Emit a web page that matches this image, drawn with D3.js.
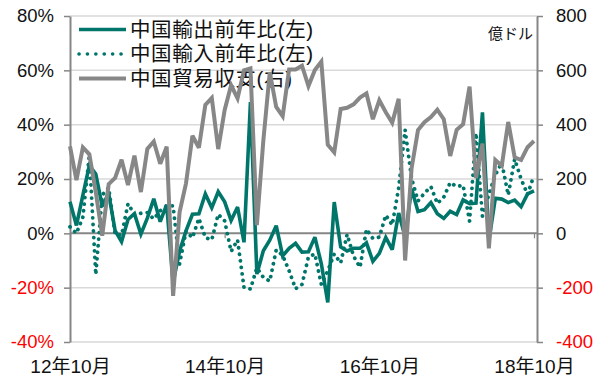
<!DOCTYPE html>
<html>
<head>
<meta charset="utf-8">
<script src="https://cdn.jsdelivr.net/npm/d3@7"></script>
<style>
  html, body { margin: 0; padding: 0; background: #fff; }
  svg { display: block; }
  text { font-family: "Liberation Sans", "Noto Sans CJK JP", sans-serif; }
</style>
</head>
<body>
<svg id="chart" width="614" height="391"></svg>
<script>
// ---- data ----
const categories = [
  "2012-10","2012-11","2012-12",
  "2013-01","2013-02","2013-03","2013-04","2013-05","2013-06","2013-07","2013-08","2013-09","2013-10","2013-11","2013-12",
  "2014-01","2014-02","2014-03","2014-04","2014-05","2014-06","2014-07","2014-08","2014-09","2014-10","2014-11","2014-12",
  "2015-01","2015-02","2015-03","2015-04","2015-05","2015-06","2015-07","2015-08","2015-09","2015-10","2015-11","2015-12",
  "2016-01","2016-02","2016-03","2016-04","2016-05","2016-06","2016-07","2016-08","2016-09","2016-10","2016-11","2016-12",
  "2017-01","2017-02","2017-03","2017-04","2017-05","2017-06","2017-07","2017-08","2017-09","2017-10","2017-11","2017-12",
  "2018-01","2018-02","2018-03","2018-04","2018-05","2018-06","2018-07","2018-08","2018-09","2018-10"
];
// 中国輸出前年比 (%)
const exportsYoY = [
  11.6, 2.9, 14.1,
  25.0, 21.8, 10.0, 14.7, 1.0, -3.1, 5.1, 7.2, -0.3, 5.6, 12.7, 4.3,
  10.6, -18.1, -6.6, 0.9, 7.0, 7.2, 14.5, 9.4, 15.3, 11.6, 4.7, 9.7,
  -3.3, 48.3, -15.0, -6.4, -2.5, 2.8, -8.3, -5.5, -3.7, -6.9, -6.8, -1.4,
  -11.2, -25.4, 11.5, -5.0, -6.5, -5.5, -5.5, -3.5, -10.3, -7.4, -1.5, -6.0,
  7.5, -1.3, 16.4, 8.0, 8.7, 11.3, 7.2, 5.5, 8.1, 6.9, 12.3, 10.9,
  11.1, 44.5, -2.7, 12.9, 12.6, 11.3, 12.2, 9.8, 14.5, 15.6
];
// 中国輸入前年比 (%)
const importsYoY = [
  2.4, 0.0, 6.0,
  28.8, -15.2, 14.1, 16.8, -0.3, -0.7, 10.9, 7.0, 7.4, 7.6, 5.3, 8.3,
  10.0, 10.1, -11.3, 0.8, -1.6, 5.5, -1.6, -2.4, 7.0, 4.6, -6.7, -2.4,
  -19.9, -20.5, -12.7, -16.2, -17.6, -6.1, -8.1, -13.8, -20.4, -18.8, -8.7, -7.6,
  -18.8, -13.8, -7.6, -10.9, -0.4, -8.4, -12.5, 1.5, -1.9, -1.4, 6.7, 3.1,
  16.7, 38.1, 20.3, 11.9, 14.8, 17.2, 11.0, 13.3, 18.7, 17.2, 17.7, 4.5,
  36.9, 6.3, 14.4, 21.5, 26.0, 14.1, 27.3, 20.0, 14.3, 21.4
];
// 中国貿易収支 (億ドル)
const tradeBalance = [
  320, 196, 316,
  291, 152, -9, 181, 204, 271, 178, 286, 152, 311, 338, 256,
  319, -230, 77, 184, 359, 315, 473, 498, 310, 454, 545, 497,
  600, 607, 30, 341, 593, 465, 431, 603, 603, 617, 542, 601,
  632, 326, 298, 458, 462, 475, 500, 515, 420, 490, 446, 407,
  495, -100, 239, 380, 409, 428, 455, 420, 285, 381, 402, 540,
  203, 330, -55, 270, 249, 410, 280, 270, 317, 340
];
const leftTicks = [-40, -20, 0, 20, 40, 60, 80];
const leftTickLabels = ["-40%", "-20%", "0%", "20%", "40%", "60%", "80%"];
const rightTicks = [-400, -200, 0, 200, 400, 600, 800];
const rightTickLabels = ["-400", "-200", "0", "200", "400", "600", "800"];
const xTickValues = ["2012-10", "2014-10", "2016-10", "2018-10"];
const xTickLabels = ["12年10月", "14年10月", "16年10月", "18年10月"];
const seriesNames = ["中国輸出前年比(左)", "中国輸入前年比(左)", "中国貿易収支(右)"];
const unitLabel = "億ドル";

// ---- layout ----
const TEAL = "#00766b", GRAY = "#878787", AXIS = "#868686", GRID = "#d9d9d9";
const plotL = 70, plotR = 537, plotT = 16, plotB = 342;
const svg = d3.select("#chart");

const x = d3.scalePoint().domain(categories).range([70, 534]);
const yL = d3.scaleLinear().domain([-40, 80]).range([plotB, plotT]);
const yR = d3.scaleLinear().domain([-400, 800]).range([plotB, plotT]);

// gridlines
svg.append("g").selectAll("line")
  .data(leftTicks.filter(d => d !== 0)).join("line")
  .attr("x1", plotL).attr("x2", plotR)
  .attr("y1", d => yL(d)).attr("y2", d => yL(d))
  .attr("stroke", GRID).attr("stroke-width", 1.5);

// category axis at 0
const xZero = svg.append("g").attr("transform", `translate(0,${yL(0)})`)
  .call(d3.axisBottom(x).tickValues(xTickValues).tickSize(5).tickFormat(""));
xZero.select(".domain").remove();
xZero.selectAll(".tick line").attr("stroke", AXIS).attr("stroke-width", 1.2);
svg.append("line").attr("x1", plotL).attr("x2", plotR)
  .attr("y1", yL(0)).attr("y2", yL(0))
  .attr("stroke", AXIS).attr("stroke-width", 2);

// left axis
const gL = svg.append("g").attr("transform", `translate(${plotL},0)`)
  .call(d3.axisLeft(yL).tickValues(leftTicks).tickSize(6).tickPadding(10)
    .tickFormat((d, i) => leftTickLabels[i]).tickSizeOuter(0));
gL.select(".domain").attr("stroke", AXIS).attr("stroke-width", 2);
gL.selectAll(".tick line").attr("stroke", AXIS).attr("stroke-width", 1.5);
gL.selectAll(".tick text").attr("font-size", 18.5)
  .attr("fill", d => d < 0 ? "#ff0000" : "#111");

// right axis
const gR = svg.append("g").attr("transform", `translate(${plotR},0)`)
  .call(d3.axisRight(yR).tickValues(rightTicks).tickSize(6).tickPadding(13)
    .tickFormat((d, i) => rightTickLabels[i]).tickSizeOuter(0));
gR.select(".domain").attr("stroke", AXIS).attr("stroke-width", 2);
gR.selectAll(".tick line").attr("stroke", AXIS).attr("stroke-width", 1.5);
gR.selectAll(".tick text").attr("font-size", 18.5)
  .attr("fill", d => d < 0 ? "#ff0000" : "#111");

// bottom labels
const gB = svg.append("g").attr("transform", `translate(0,${plotB})`)
  .call(d3.axisBottom(x).tickValues(xTickValues).tickSize(0).tickPadding(18)
    .tickFormat((d, i) => xTickLabels[i]));
gB.select(".domain").remove();
gB.selectAll(".tick text").attr("font-size", 19).attr("fill", "#111");

// unit label
svg.append("text").attr("x", 533).attr("y", 39).attr("text-anchor", "end")
  .attr("font-size", 15).attr("fill", "#111").text(unitLabel);

// legend
const legendRows = [
  { name: seriesNames[0], color: TEAL, dash: null, w: 3.5 },
  { name: seriesNames[1], color: TEAL, dash: "0.1 8.3", w: 3.6 },
  { name: seriesNames[2], color: GRAY, dash: null, w: 4 }
];
const lg = svg.append("g");
legendRows.forEach((r, i) => {
  const yy = 29.5 + i * 24.5;
  const ln = lg.append("line").attr("x1", 79).attr("x2", r.dash ? 122 : 126)
    .attr("y1", yy).attr("y2", yy)
    .attr("stroke", r.color).attr("stroke-width", r.w);
  if (r.dash) ln.attr("stroke-dasharray", r.dash).attr("stroke-linecap", "round");
  lg.append("text").attr("x", 130).attr("y", yy).attr("dy", "0.36em")
    .attr("font-size", 20.5).attr("letter-spacing", 0.6).attr("fill", "#111")
    .attr("font-family", "'Noto Sans CJK JP', sans-serif")
    .text(r.name);
});

// series
const lineL = vals => d3.line().x((d, i) => x(categories[i])).y(d => yL(d))(vals);
const lineR = vals => d3.line().x((d, i) => x(categories[i])).y(d => yR(d))(vals);

svg.append("path").attr("d", lineL(importsYoY)).attr("fill", "none")
  .attr("stroke", TEAL).attr("stroke-width", 3.8)
  .attr("stroke-dasharray", "0.1 6.5").attr("stroke-linecap", "round");
svg.append("path").attr("d", lineL(exportsYoY)).attr("fill", "none")
  .attr("stroke", TEAL).attr("stroke-width", 3.6).attr("stroke-linejoin", "miter").attr("stroke-miterlimit", 3);
svg.append("path").attr("d", lineR(tradeBalance)).attr("fill", "none")
  .attr("stroke", GRAY).attr("stroke-width", 4).attr("stroke-linejoin", "miter").attr("stroke-miterlimit", 3);
</script>
</body>
</html>
